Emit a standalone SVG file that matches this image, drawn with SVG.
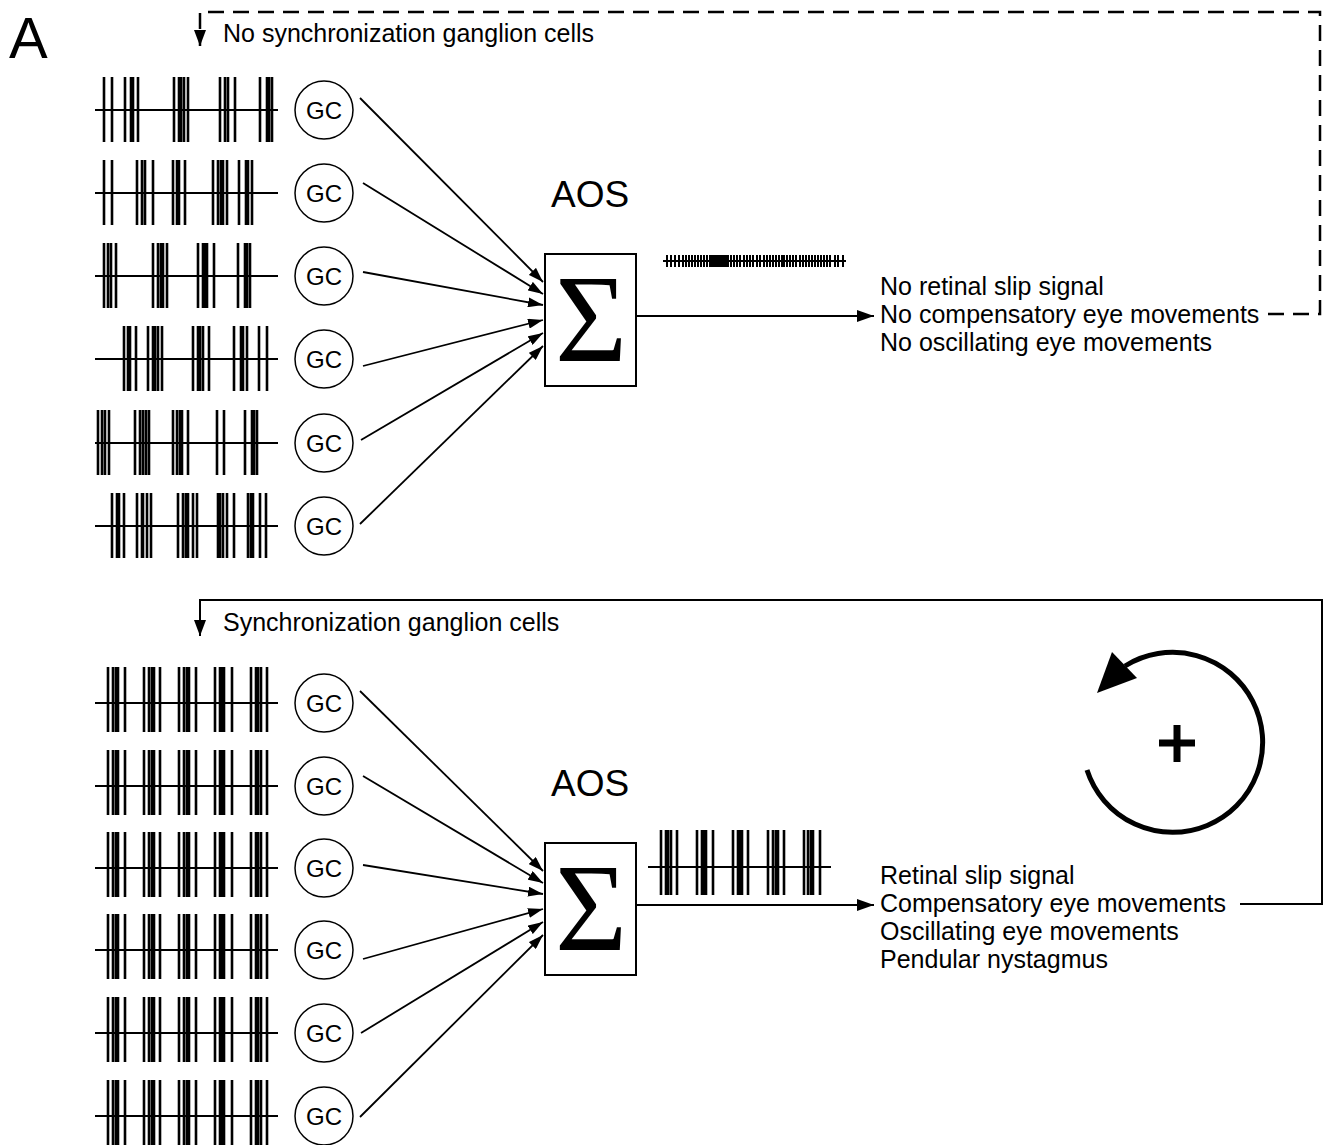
<svg xmlns="http://www.w3.org/2000/svg" width="1329" height="1145" viewBox="0 0 1329 1145">
<style>
.t{font-family:"Liberation Sans",Arial,sans-serif;font-size:25px;fill:#000}
.gc{font-family:"Liberation Sans",Arial,sans-serif;font-size:24px;fill:#000;text-anchor:middle}
.aos{font-family:"Liberation Sans",Arial,sans-serif;font-size:37px;fill:#000}
.sig{font-family:"Liberation Serif","Times New Roman",serif;font-size:124px;fill:#000;text-anchor:middle}
.sp{stroke:#000;stroke-width:2.6;fill:none}
.bl{stroke:#000;stroke-width:2;fill:none}
.ar{stroke:#000;stroke-width:1.8;fill:none;marker-end:url(#ah)}
.cc{fill:#fff;stroke:#000;stroke-width:1.5}
.box{fill:#fff;stroke:#000;stroke-width:2}
</style>
<defs>
<marker id="ah" markerWidth="16" markerHeight="10" refX="15" refY="5" orient="auto" markerUnits="userSpaceOnUse"><path d="M0,0 L15,5 L0,10 Z" fill="#000"/></marker>
<marker id="ah2" markerWidth="18" markerHeight="12" refX="17" refY="6" orient="auto" markerUnits="userSpaceOnUse"><path d="M0,0 L17,6 L0,12 Z" fill="#000"/></marker>
<g id="sync">
<path class="bl" d="M95 0 H278"/>
<path class="sp" d="M108 -36V29M113 -36V29M116 -36V29M118 -36V29M125 -36V29M144 -36V29M149 -36V29M152 -36V29M154 -36V29M160 -36V29M179 -36V29M184 -36V29M187 -36V29M189 -36V29M196 -36V29M215 -36V29M220 -36V29M222 -36V29M224 -36V29M232 -36V29M251 -36V29M256 -36V29M258 -36V29M261 -36V29M267 -36V29"/>
</g>
<g id="gcn"><circle class="cc" cx="324" cy="0" r="29"/><text class="gc" x="324" y="8.5">GC</text></g>
</defs>
<rect width="1329" height="1145" fill="#fff"/>
<text x="9" y="58" style="font-family:'Liberation Sans',Arial,sans-serif;font-size:58px">A</text>

<g id="top-label"><text class="t" x="223" y="42">No synchronization ganglion cells</text></g>
<g id="bottom-label"><text class="t" x="223" y="631">Synchronization ganglion cells</text></g>

<g id="top-trains">
<g transform="translate(0,110)"><path class="bl" d="M95 0 H278"/><path class="sp" d="M104 -33V32M112 -33V32M125 -33V32M131 -33V32M133 -33V32M138 -33V32M174 -33V32M179 -33V32M181 -33V32M184 -33V32M188 -33V32M220 -33V32M225 -33V32M228 -33V32M235 -33V32M260 -33V32M267 -33V32M269 -33V32M272 -33V32"/></g>
<g transform="translate(0,193)"><path class="bl" d="M95 0 H278"/><path class="sp" d="M104 -33V32M112 -33V32M137 -33V32M142 -33V32M145 -33V32M153 -33V32M173 -33V32M177 -33V32M179 -33V32M185 -33V32M213 -33V32M218 -33V32M221 -33V32M223 -33V32M227 -33V32M239 -33V32M246 -33V32M248 -33V32M252 -33V32"/></g>
<g transform="translate(0,276)"><path class="bl" d="M95 0 H278"/><path class="sp" d="M104 -33V32M108 -33V32M111 -33V32M116 -33V32M153 -33V32M158 -33V32M161 -33V32M163 -33V32M167 -33V32M198 -33V32M203 -33V32M205 -33V32M207 -33V32M214 -33V32M238 -33V32M245 -33V32M247 -33V32M250 -33V32"/></g>
<g transform="translate(0,359)"><path class="bl" d="M95 0 H278"/><path class="sp" d="M124 -33V32M128 -33V32M130 -33V32M136 -33V32M148 -33V32M153 -33V32M155 -33V32M158 -33V32M162 -33V32M193 -33V32M198 -33V32M200 -33V32M203 -33V32M209 -33V32M234 -33V32M241 -33V32M243 -33V32M247 -33V32M259 -33V32M267 -33V32"/></g>
<g transform="translate(0,443)"><path class="bl" d="M95 0 H278"/><path class="sp" d="M98 -33V32M102 -33V32M105 -33V32M109 -33V32M135 -33V32M140 -33V32M143 -33V32M146 -33V32M149 -33V32M173 -33V32M177 -33V32M180 -33V32M182 -33V32M188 -33V32M217 -33V32M224 -33V32M245 -33V32M252 -33V32M254 -33V32M257 -33V32"/></g>
<g transform="translate(0,526)"><path class="bl" d="M95 0 H278"/><path class="sp" d="M112 -33V32M117 -33V32M119 -33V32M124 -33V32M137 -33V32M142 -33V32M143 -33V32M147 -33V32M151 -33V32M178 -33V32M183 -33V32M186 -33V32M188 -33V32M193 -33V32M197 -33V32M218 -33V32M220 -33V32M223 -33V32M227 -33V32M234 -33V32M248 -33V32M251 -33V32M253 -33V32M260 -33V32M266 -33V32"/></g>
</g>

<g id="bottom-trains">
<use href="#sync" y="703"/>
<use href="#sync" y="786"/>
<use href="#sync" y="868"/>
<use href="#sync" y="950"/>
<use href="#sync" y="1033"/>
<use href="#sync" y="1116"/>
</g>

<g id="gc-top-1"><use href="#gcn" y="110"/></g>
<g id="gc-top-2"><use href="#gcn" y="193"/></g>
<g id="gc-top-3"><use href="#gcn" y="276"/></g>
<g id="gc-top-4"><use href="#gcn" y="359"/></g>
<g id="gc-top-5"><use href="#gcn" y="443"/></g>
<g id="gc-top-6"><use href="#gcn" y="526"/></g>
<g id="gc-bot-1"><use href="#gcn" y="703"/></g>
<g id="gc-bot-2"><use href="#gcn" y="786"/></g>
<g id="gc-bot-3"><use href="#gcn" y="868"/></g>
<g id="gc-bot-4"><use href="#gcn" y="950"/></g>
<g id="gc-bot-5"><use href="#gcn" y="1033"/></g>
<g id="gc-bot-6"><use href="#gcn" y="1116"/></g>

<g id="aos-top">
<text class="aos" x="551" y="207">AOS</text>
<rect class="box" x="545" y="254" width="91" height="132"/>
<text class="sig" x="591" y="361">Σ</text>
</g>
<g id="aos-bottom">
<text class="aos" x="551" y="796">AOS</text>
<rect class="box" x="545" y="843" width="91" height="132"/>
<text class="sig" x="591" y="950">Σ</text>
</g>

<g id="top-output-train">
<path class="bl" d="M663 261 H846" stroke-width="1.8"/>
<path stroke="#000" stroke-width="2" fill="none" d="M667 255V267M671 255V267M675 255V267M679 255V267M683 255V267M686 255V267M689 255V267M692 255V267M695 255V267M698 255V267M701 255V267M704 255V267M707 255V267M710 255V267M712 255V267M714 255V267M716 255V267M718 255V267M720 255V267M722 255V267M724 255V267M726 255V267M728 255V267M731 255V267M734 255V267M737 255V267M740 255V267M744 255V267M747 255V267M750 255V267M753 255V267M757 255V267M760 255V267M764 255V267M767 255V267M770 255V267M773 255V267M776 255V267M779 255V267M782 255V267M784 255V267M787 255V267M790 255V267M793 255V267M796 255V267M800 255V267M803 255V267M806 255V267M809 255V267M812 255V267M815 255V267M818 255V267M821 255V267M824 255V267M827 255V267M830 255V267M835 255V267M838 255V267M843 255V267"/>
</g>
<g id="bottom-output-train">
<path class="bl" d="M648 867 H831"/>
<path class="sp" d="M661 830V895M666 830V895M668 830V895M671 830V895M677 830V895M697 830V895M702 830V895M704 830V895M706 830V895M713 830V895M733 830V895M738 830V895M740 830V895M742 830V895M748 830V895M768 830V895M773 830V895M776 830V895M778 830V895M784 830V895M804 830V895M808 830V895M811 830V895M813 830V895M820 830V895"/>
</g>

<g id="top-text">
<text class="t" x="880" y="295">No retinal slip signal</text>
<text class="t" x="880" y="323">No compensatory eye movements</text>
<text class="t" x="880" y="351">No oscillating eye movements</text>
</g>
<g id="bottom-text">
<text class="t" x="880" y="884">Retinal slip signal</text>
<text class="t" x="880" y="912">Compensatory eye movements</text>
<text class="t" x="880" y="940">Oscillating eye movements</text>
<text class="t" x="880" y="968">Pendular nystagmus</text>
</g>

<g id="loop-symbol">
<path d="M1087 770 A90 90 0 1 0 1125 666" fill="none" stroke="#000" stroke-width="5"/>
<path d="M1097 693 L1112 652 L1137 678 Z" fill="#000"/>
<path d="M1177 725 V762 M1159 743 H1195" stroke="#000" stroke-width="7" fill="none"/>
</g>

<g id="connectors">
<path class="ar" d="M360 98 L543 282"/>
<path class="ar" d="M363 183 L543 294"/>
<path class="ar" d="M363 272 L543 305"/>
<path class="ar" d="M363 366 L543 320"/>
<path class="ar" d="M361 440 L543 333"/>
<path class="ar" d="M360 524 L543 346"/>
<path class="ar" d="M360 691 L543 871"/>
<path class="ar" d="M363 776 L543 883"/>
<path class="ar" d="M363 865 L543 894"/>
<path class="ar" d="M363 959 L543 909"/>
<path class="ar" d="M361 1033 L543 922"/>
<path class="ar" d="M360 1117 L543 935"/>
<path d="M636 316 H874" stroke="#000" stroke-width="2" fill="none" marker-end="url(#ah2)"/>
<path d="M636 905 H874" stroke="#000" stroke-width="2" fill="none" marker-end="url(#ah2)"/>
<path d="M1268 314 H1320 V12 H200 V46" stroke="#000" stroke-width="2.5" fill="none" stroke-dasharray="16 9"/>
<path d="M194 30 L206 30 L200 46 Z" fill="#000"/>
<path d="M1240 904 H1322 V600 H200 V636" stroke="#000" stroke-width="2" fill="none"/>
<path d="M194 620 L206 620 L200 636 Z" fill="#000"/>
</g>
</svg>
